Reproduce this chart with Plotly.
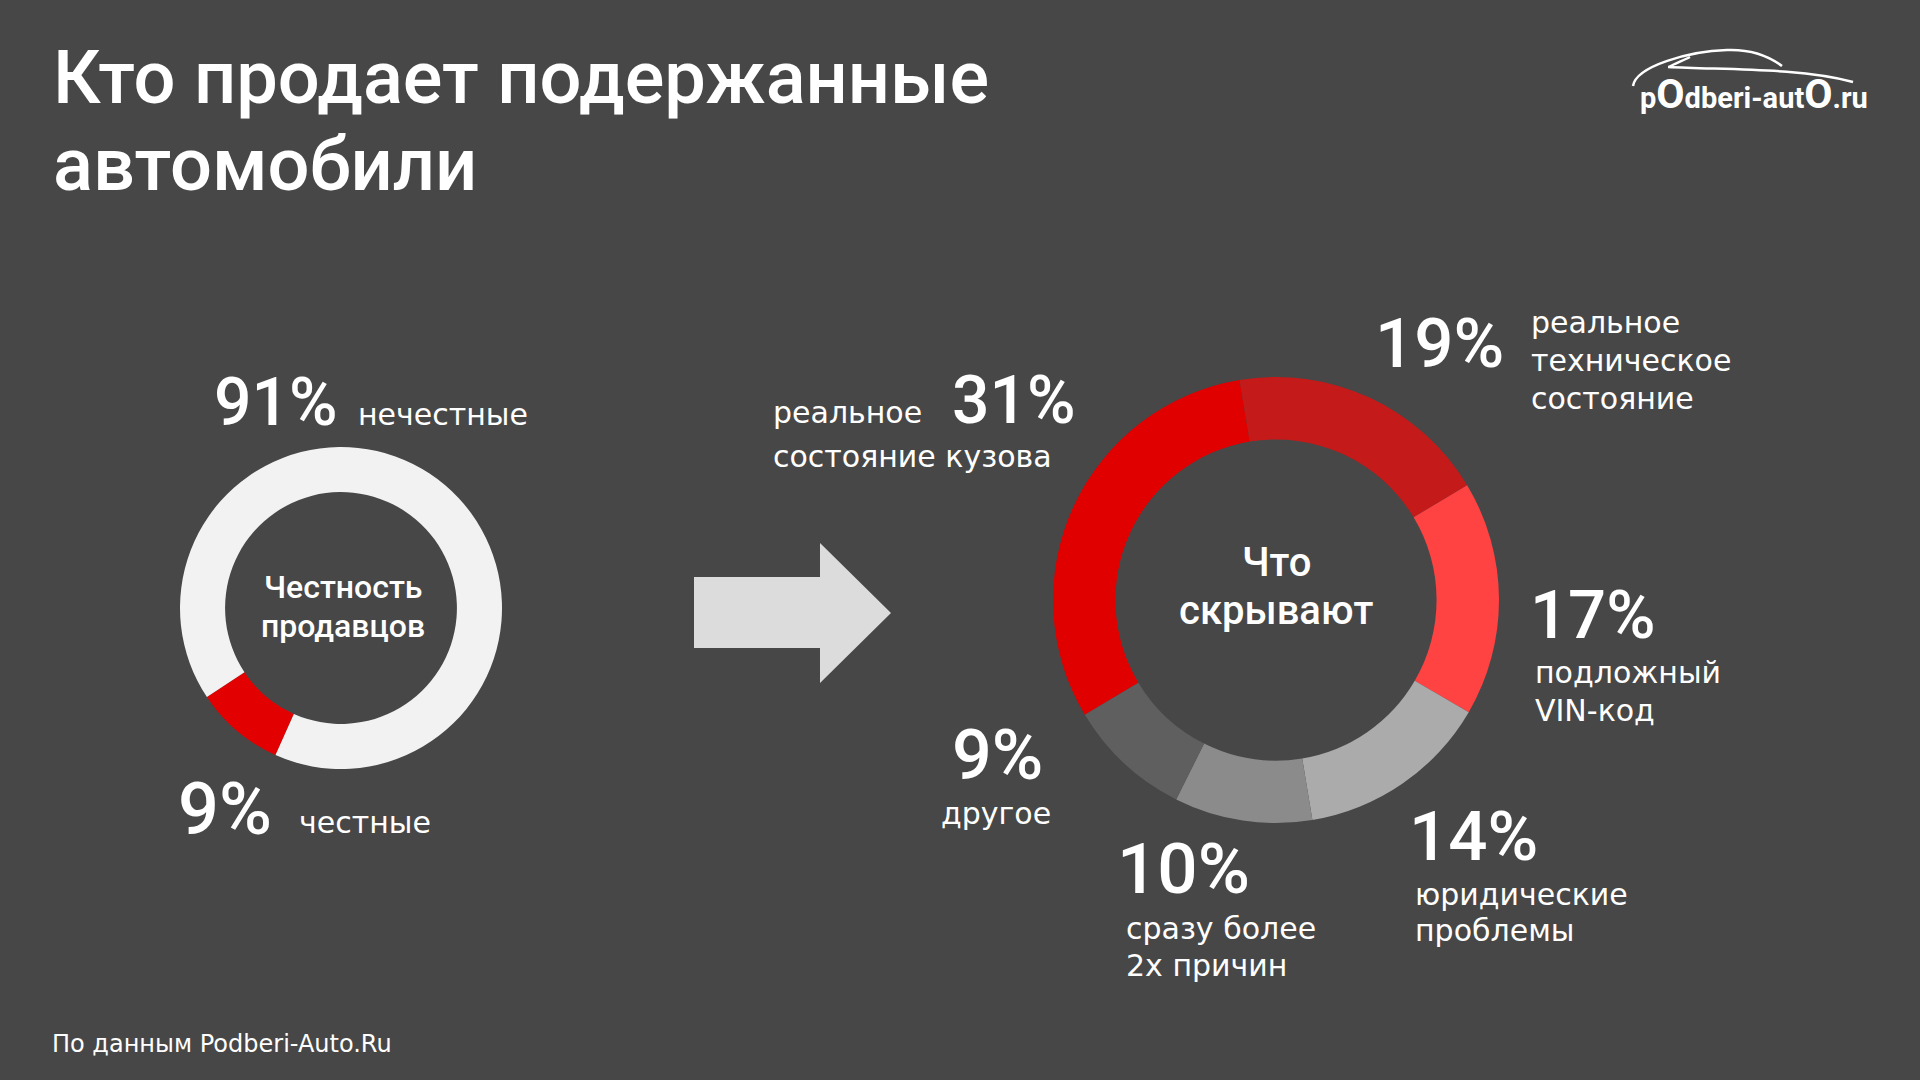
import plotly.graph_objects as go

W, H = 1920, 1080
BG = "#474747"
HEAD = "Roboto"        # headings and percentages
BODY = "DejaVu Sans"   # descriptions
# font line-box metrics (ascent, descent) in em
METRICS = {"Roboto": (0.928, 0.244), "DejaVu Sans": (0.928, 0.236), "Open Sans": (1.069, 0.293)}

# ---------------- data ----------------
title_lines = ["Кто продает подержанные", "автомобили"]

honesty_center = ["Честность", "продавцов"]
honesty_labels = ["честные", "нечестные"]
honesty_values = [9, 91]
honesty_colors = ["#E30000", "#F2F2F2"]

hidden_center = ["Что", "скрывают"]
hidden_labels = [
    ["реальное", "состояние кузова"],
    ["реальное", "техническое", "состояние"],
    ["подложный", "VIN-код"],
    ["юридические", "проблемы"],
    ["сразу более", "2х причин"],
    ["другое"],
]
hidden_values = [31, 19, 17, 14, 10, 9]
hidden_colors = ["#E00000", "#C41A1A", "#FF4242", "#ABABAB", "#8B8B8B", "#5F5F5F"]

source_text = "По данным Podberi-Auto.Ru"
logo_parts = ["p", "O", "dberi-aut", "O", ".ru"]


def px(x):
    return x / W


def py(y):
    return 1 - y / H


def sp(s, size, weight=None):
    st = f"font-size:{size}px"
    if weight:
        st += f";font-weight:{weight}"
    return f"<span style='{st}'>{s}</span>"


annotations = []


def text(s, x, base, size, weight=400, anchor="left", color="#FFFFFF", family=BODY):
    """single-line text placed by its baseline"""
    asc, dsc = METRICS[family]
    annotations.append(dict(
        text=s, x=px(x), y=py(base - (asc - dsc) / 2 * size), xref="paper", yref="paper",
        xanchor=anchor, yanchor="middle", showarrow=False, borderwidth=0, borderpad=0,
        font=dict(family=family, size=size, color=color, weight=weight),
    ))


def pct(v, x, base, size, anchor="left"):
    text(f"{v}%", x, base, size, 500, anchor, family=HEAD)


def lines(items, x, bases, size, weight=400, anchor="left", family=BODY):
    for s, b in zip(items, bases):
        text(s, x, b, size, weight, anchor, family=family)


fig = go.Figure()

# left donut: seller honesty
fig.add_trace(go.Pie(
    labels=honesty_labels, values=honesty_values, hole=0.72, sort=False,
    direction="clockwise", rotation=204,
    marker=dict(colors=honesty_colors, line=dict(width=0)),
    textinfo="none", hoverinfo="skip", showlegend=False,
    domain=dict(x=[px(180), px(502)], y=[py(769), py(447)]),
))

# right donut: what is hidden
fig.add_trace(go.Pie(
    labels=[" ".join(l) for l in hidden_labels], values=hidden_values, hole=0.72, sort=False,
    direction="clockwise", rotation=239,
    marker=dict(colors=hidden_colors, line=dict(width=0)),
    textinfo="none", hoverinfo="skip", showlegend=False,
    domain=dict(x=[px(1053), px(1499)], y=[py(823), py(377)]),
))

# title
lines(title_lines, 53, [103, 190], 74, 500, family=HEAD)

# left donut texts
lines(honesty_center, 343, [598, 637], 32, 500, anchor="center", family=HEAD)
pct(honesty_values[1], 214, 425, 66)
text(honesty_labels[1], 358, 425, 30)
pct(honesty_values[0], 178, 834, 72)
text(honesty_labels[0], 299, 833, 30)

# right donut centre
lines(hidden_center, 1276, [576, 624], 40, 500, anchor="center", family=HEAD)

D = 30  # description size
# 31%
text(hidden_labels[0][0], 773, 423, D)
pct(hidden_values[0], 952, 423, 66)
text(hidden_labels[0][1], 773, 467, D)
# 19%
pct(hidden_values[1], 1375, 367, 69)
lines(hidden_labels[1], 1531, [333, 371, 409], D)
# 17%
pct(hidden_values[2], 1530, 638, 67)
lines(hidden_labels[2], 1535, [683, 721], D)
# 14%
pct(hidden_values[3], 1409, 860, 69)
lines(hidden_labels[3], 1415, [905, 941], D)
# 10%
pct(hidden_values[4], 1117, 893, 71)
lines(hidden_labels[4], 1126, [939, 976], D)
# 9%
pct(hidden_values[5], 997, 779, 70, anchor="center")
text(hidden_labels[5][0], 996, 824, D, anchor="center")

# source
text(source_text, 52, 1052, 24)

# logo text
logo_html = "".join(sp(p, 41) if p == "O" else p for p in logo_parts)
text(logo_html, 1754, 104, 29, 700, anchor="center", family="Roboto")


# shapes: arrow + logo car outline
def path(points):
    return "M " + " L ".join(f"{px(x)},{py(y)}" for x, y in points) + " Z"


arrow_pts = [(694, 577), (820, 577), (820, 543), (891, 613), (820, 683), (820, 648), (694, 648)]
shapes = [dict(type="path", xref="paper", yref="paper", path=path(arrow_pts),
               fillcolor="#DCDCDC", line=dict(width=0), layer="above")]


def curve(segs):
    s = f"M {px(segs[0][0])},{py(segs[0][1])}"
    for c in segs[1:]:
        s += " C " + " ".join(f"{px(c[k])},{py(c[k + 1])}" for k in (0, 2, 4))
    return s


roof = curve([(1633, 86), (1636, 66, 1690, 51, 1727, 50), (1752, 49, 1770, 57, 1782, 66)])
body = curve([(1668, 67), (1730, 70, 1800, 68, 1853, 82)])
pillar = curve([(1690, 57), (1682, 61, 1674, 64, 1669, 67)])
for p in (roof, body, pillar):
    shapes.append(dict(type="path", xref="paper", yref="paper", path=p,
                       line=dict(color="#FFFFFF", width=2.5), fillcolor="rgba(0,0,0,0)"))

fig.update_layout(
    width=W, height=H, margin=dict(l=0, r=0, t=0, b=0),
    paper_bgcolor=BG, plot_bgcolor=BG,
    annotations=annotations, shapes=shapes,
    showlegend=False,
)

fig.write_html(
    "out.html",
    config={"displayModeBar": False, "staticPlot": True},
    post_script="document.body.style.margin='0';document.body.style.overflow='hidden';document.body.style.background='%s';" % BG,
)
